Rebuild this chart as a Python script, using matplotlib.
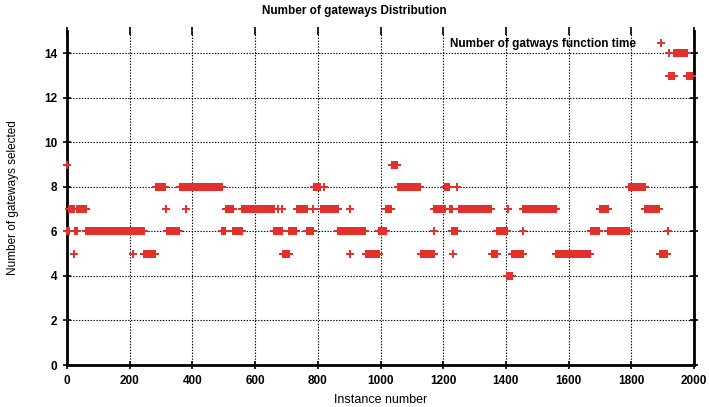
import numpy as np
import matplotlib
matplotlib.use("Agg")
import matplotlib.pyplot as plt

plt.rcParams['font.family'] = ['Liberation Sans', 'DejaVu Sans']

# runs of constant value: first instance, last instance, gateways
run_start = [0, 1, 6, 22, 26, 33, 62, 210, 214, 246, 283, 317, 320, 360, 379, 380,
             494, 506, 531, 559, 661, 674, 675, 687, 689, 708, 734, 767, 785, 788, 820,
             809, 866, 902, 903, 905, 953, 995, 1017, 1036, 1057, 1128, 1171, 1172,
             1206, 1221, 1229, 1231, 1245, 1249, 1355, 1373, 1405, 1408, 1409, 1421,
             1455, 1456, 1561, 1670, 1699, 1727, 1793, 1844, 1890, 1916, 1920, 1921,
             1936, 1979]
run_end = [0, 5, 21, 22, 32, 61, 206, 210, 245, 282, 313, 317, 357, 378, 379, 493,
           505, 530, 557, 660, 673, 674, 686, 687, 707, 731, 766, 784, 785, 808, 820,
           865, 900, 902, 903, 952, 994, 1016, 1035, 1054, 1127, 1170, 1171, 1205,
           1220, 1228, 1244, 1231, 1245, 1354, 1372, 1404, 1407, 1408, 1420, 1454,
           1455, 1560, 1669, 1698, 1726, 1792, 1843, 1889, 1915, 1916, 1920, 1935,
           1978, 1995]
run_value = [9, 6, 7, 5, 6, 7, 6, 5, 6, 5, 8, 7, 6, 8, 7, 8,
             6, 7, 6, 7, 6, 7, 6, 7, 5, 6, 7, 6, 7, 8, 8,
             7, 6, 5, 7, 6, 5, 6, 7, 9, 8, 5, 6, 7,
             8, 7, 6, 5, 8, 7, 5, 6, 4, 7, 4, 5,
             6, 7, 5, 6, 7, 6, 8, 7, 5, 6, 14, 13,
             14, 13]

x_ticks = [0, 200, 400, 600, 800, 1000, 1200, 1400, 1600, 1800, 2000]
y_ticks = [0, 2, 4, 6, 8, 10, 12, 14]

xs = np.concatenate([np.arange(s, e + 1) for s, e in zip(run_start, run_end)])
ys = np.concatenate([np.full(e - s + 1, v) for s, e, v in zip(run_start, run_end, run_value)])

red = '#e3302c'

fig = plt.figure(figsize=(7.09, 4.07), dpi=100)
ax = fig.add_axes([67 / 709, 1 - 365 / 407, (694 - 67) / 709, (365 - 31) / 407])

ax.plot(xs, ys, linestyle='none', marker='+', color=red, markersize=5.5,
        markeredgewidth=1.4, label='Number of gatways function time',
        clip_on=False, zorder=5)

ax.set_xlim(0, 2000)
ax.set_ylim(0, 15)
ax.set_xticks(x_ticks)
ax.set_yticks(y_ticks)
ax.grid(True, color='black', linestyle=(0, (1.2, 1.4)), linewidth=0.8)
ax.tick_params(direction='inout', length=6, width=1.2, labelsize=8.5, top=True,
               right=True, pad=4)
for lab in ax.get_xticklabels() + ax.get_yticklabels():
    lab.set_fontweight('bold')

for side in ['left', 'right', 'bottom']:
    ax.spines[side].set_linewidth(2)
ax.spines['top'].set_visible(False)

ax.set_xlabel('Instance number', fontsize=9, labelpad=5)
ax.set_ylabel('Number of gateways selected', fontsize=8.5, labelpad=18)
fig.text(0.5, 1 - 11 / 407, 'Number of gateways Distribution', ha='center', va='center',
         fontsize=8.5, fontweight='bold')

ax.legend(loc='upper right', bbox_to_anchor=(0.975, 1.01), frameon=False, markerfirst=False,
          prop={'size': 8.5, 'weight': 'bold'}, handlelength=1.2, handletextpad=1.5)

fig.savefig('out.png', dpi=100)
